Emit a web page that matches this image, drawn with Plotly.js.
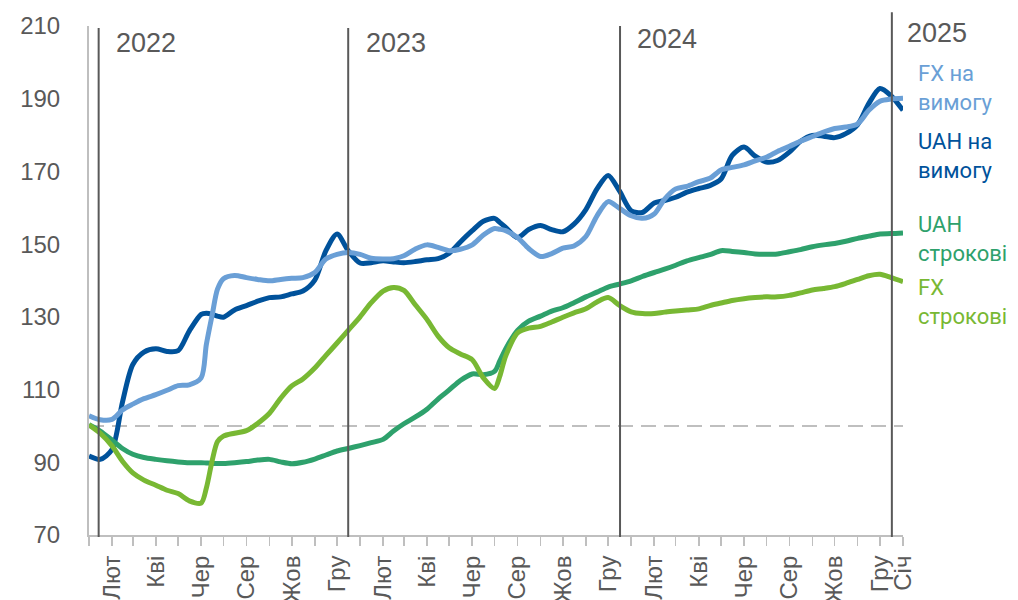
<!DOCTYPE html>
<html>
<head>
<meta charset="utf-8">
<script src="https://cdn.plot.ly/plotly-3.0.1.min.js"></script>
<style>html,body{margin:0;padding:0;background:#fff;}#chart{width:1018px;height:600px;}</style>
</head>
<body>
<div id="chart"></div>
<script>
// Observation dates (roughly semi-monthly)
const dates = [
 '2022-01-01','2022-01-16','2022-02-01','2022-02-15','2022-03-01','2022-03-16','2022-04-01','2022-04-16','2022-05-01','2022-05-16',
 '2022-06-01','2022-06-08','2022-06-16','2022-06-23','2022-07-01','2022-07-16','2022-08-01','2022-08-16','2022-09-01','2022-09-16',
 '2022-10-01','2022-10-16','2022-11-01','2022-11-16','2022-12-01','2022-12-16',
 '2023-01-01','2023-01-16','2023-02-01','2023-02-15','2023-03-01','2023-03-16','2023-04-01','2023-04-16','2023-05-01','2023-05-16',
 '2023-06-01','2023-06-16','2023-07-01','2023-07-08','2023-07-16','2023-08-01','2023-08-16','2023-09-01','2023-09-16',
 '2023-10-01','2023-10-16','2023-11-01','2023-11-16','2023-12-01','2023-12-16',
 '2024-01-01','2024-01-16','2024-02-01','2024-02-15','2024-03-01','2024-03-16','2024-04-01','2024-04-16','2024-05-01','2024-05-16',
 '2024-06-01','2024-06-16','2024-07-01','2024-07-16','2024-08-01','2024-08-16','2024-09-01','2024-09-16',
 '2024-10-01','2024-10-16','2024-11-01','2024-11-16','2024-12-01','2024-12-16','2025-01-01'
];

const fxDemand = [
 102.8,101.7,101.8,104.4,106.0,107.5,108.6,109.8,111.1,111.3,
 113.2,122.4,130.7,137.6,140.5,141.4,140.8,140.3,139.9,140.3,
 140.6,140.8,142.2,145.9,147.2,147.7,
 147.2,146.1,145.9,146.0,146.8,148.6,149.8,149.1,148.2,148.6,
 149.8,152.5,154.3,154.1,153.7,151.8,148.8,146.6,147.4,
 148.9,149.5,152.1,157.8,161.7,159.9,
 157.8,157.1,158.3,162.4,165.2,165.9,167.2,168.1,170.4,171.1,
 171.8,172.9,173.9,175.5,176.9,178.3,179.6,180.8,
 181.8,182.2,183.1,186.8,189.3,189.9,190.1
];

const uahDemand = [
 91.7,90.8,93.5,106.5,116.9,120.3,121.2,120.5,120.7,126.1,
 130.7,131.0,130.7,130.2,129.9,131.9,133.1,134.3,135.3,135.5,
 136.3,137.1,140.1,148.2,152.8,148.2,
 144.8,144.9,145.4,145.1,144.9,145.2,145.7,146.0,147.5,150.6,
 153.7,156.3,157.1,156.0,154.6,151.8,154.0,155.1,154.0,
 153.4,155.5,159.5,165.2,168.9,164.7,
 159.2,158.7,161.3,162.0,162.9,164.3,165.3,166.1,167.9,174.4,
 176.7,174.2,172.6,173.0,175.3,178.3,179.9,179.7,
 179.3,180.4,182.9,188.7,192.8,190.8,186.8
];

const uahTerm = [
 100.3,98.6,96.1,93.8,92.2,91.3,90.8,90.4,90.1,89.9,
 89.9,89.8,89.7,89.7,89.7,89.9,90.2,90.6,90.8,90.1,
 89.6,90.0,90.9,92.0,93.1,93.8,
 94.6,95.4,96.3,98.6,100.6,102.4,104.6,107.4,109.9,112.5,
 114.3,114.1,115.0,117.8,121.2,126.3,128.8,130.2,131.6,
 132.5,133.9,135.5,136.8,138.2,139.0,
 139.9,141.1,142.2,143.1,144.2,145.4,146.3,147.1,148.2,148.0,
 147.7,147.3,147.2,147.3,147.9,148.5,149.3,149.8,
 150.2,150.8,151.6,152.2,152.8,152.9,153.1
];

const fxTerm = [
 100.3,98.0,94.5,90.3,87.1,85.1,83.7,82.3,81.4,79.4,
 78.8,82.9,90.6,95.7,97.2,98.0,98.7,100.7,103.5,107.6,
 111.0,112.9,115.9,119.4,122.8,126.3,
 130.0,133.9,137.1,138.1,137.3,133.4,129.3,124.7,121.5,119.8,
 118.2,113.2,110.3,113.6,119.2,125.6,126.9,127.4,128.6,
 129.9,131.1,132.2,134.1,135.3,133.2,
 131.4,130.9,130.9,131.3,131.6,131.9,132.2,133.1,133.8,134.5,
 135.0,135.3,135.5,135.5,135.9,136.6,137.4,137.8,
 138.3,139.2,140.3,141.3,141.7,140.8,139.7
];

const seriesNames = ['UAH на вимогу', 'FX на вимогу', 'UAH строкові', 'FX строкові'];
const seriesColors = ['#00529b', '#6a9fd6', '#2ea16c', '#78b833'];

// Month ticks and labels
const tickDates = [
 '2022-01-01','2022-02-01','2022-03-01','2022-04-01','2022-05-01','2022-06-01','2022-07-01','2022-08-01','2022-09-01','2022-10-01','2022-11-01','2022-12-01',
 '2023-01-01','2023-02-01','2023-03-01','2023-04-01','2023-05-01','2023-06-01','2023-07-01','2023-08-01','2023-09-01','2023-10-01','2023-11-01','2023-12-01',
 '2024-01-01','2024-02-01','2024-03-01','2024-04-01','2024-05-01','2024-06-01','2024-07-01','2024-08-01','2024-09-01','2024-10-01','2024-11-01','2024-12-01',
 '2025-01-01'
];
const tickLabels = [
 '','Лют','','Кві','','Чер','','Сер','','Жов','','Гру',
 '','Лют','','Кві','','Чер','','Сер','','Жов','','Гру',
 '','Лют','','Кві','','Чер','','Сер','','Жов','','Гру',
 'Січ'
];
const yTicks = [70, 90, 110, 130, 150, 170, 190, 210];

// Year separators
const yearNames = ['2022', '2023', '2024', '2025'];
const yearLineDates = ['2022-01-14', '2022-12-16', '2023-12-17', '2024-12-17'];
const baseline = 100;

const gray = '#595959';
const lineData = [uahDemand, fxDemand, uahTerm, fxTerm];

const traces = lineData.map((vals, i) => ({
  type: 'scatter', mode: 'lines', name: seriesNames[i],
  x: dates, y: vals,
  line: {color: seriesColors[i], width: 5, shape: 'spline', smoothing: 0.8},
  hoverinfo: 'skip'
}));

const shapes = [
  {type: 'line', xref: 'paper', yref: 'y', x0: 0, x1: 1, y0: baseline, y1: baseline,
   line: {color: '#bfbfbf', width: 2, dash: '15px,8px'}, layer: 'below'}
];
const lineTops = [0.996, 0.996, 1.0, 1.027];
yearLineDates.forEach((d, i) => {
  shapes.push({type: 'line', xref: 'x', yref: 'paper', x0: d, x1: d, y0: -0.004, y1: lineTops[i],
    line: {color: gray, width: 2}, layer: 'above'});
});

const annotations = [];
const yearPos = [[0.031, 0.967], [0.338, 0.967], [0.671, 0.975], [1.003, 0.987]];
yearNames.forEach((t, i) => {
  annotations.push({text: t, xref: 'paper', yref: 'paper', x: yearPos[i][0], y: yearPos[i][1],
    xanchor: 'left', yanchor: 'middle', showarrow: false,
    font: {family: 'Liberation Sans, Arial, sans-serif', size: 27, color: gray}});
});
const legendText = ['FX на<br>вимогу', 'UAH на<br>вимогу', 'UAH<br>строкові', 'FX<br>строкові'];
const legendColors = [seriesColors[1], seriesColors[0], seriesColors[2], seriesColors[3]];
const legendY = [0.879, 0.745, 0.582, 0.458];
legendText.forEach((t, i) => {
  annotations.push({text: t, xref: 'paper', yref: 'paper', x: 1.016, y: legendY[i],
    xanchor: 'left', yanchor: 'middle', align: 'left', showarrow: false,
    font: {family: 'Roboto, sans-serif', size: 22, color: legendColors[i]}});
});

const layout = {
  width: 1018, height: 600,
  margin: {l: 89, r: 115, t: 26, b: 65},
  paper_bgcolor: '#ffffff', plot_bgcolor: '#ffffff',
  showlegend: false,
  xaxis: {
    type: 'date', range: ['2022-01-01', '2025-01-01'],
    tickmode: 'array', tickvals: tickDates, ticktext: tickLabels, tickangle: -90,
    ticks: 'outside', ticklen: 9, tickwidth: 1.5, tickcolor: '#bfbfbf',
    showline: true, linecolor: '#bfbfbf', linewidth: 2,
    showgrid: false, zeroline: false,
    tickfont: {family: 'Liberation Sans, Arial, sans-serif', size: 24, color: gray}
  },
  yaxis: {
    range: [70, 210], tickmode: 'array', tickvals: yTicks,
    showline: true, linecolor: '#bfbfbf', linewidth: 2,
    showgrid: false, zeroline: false, ticks: '',
    ticklabelstandoff: 22,
    tickfont: {family: 'Liberation Sans, Arial, sans-serif', size: 24, color: gray}
  },
  shapes: shapes,
  annotations: annotations
};

Plotly.newPlot('chart', traces, layout, {displayModeBar: false, staticPlot: true});
</script>
</body>
</html>
